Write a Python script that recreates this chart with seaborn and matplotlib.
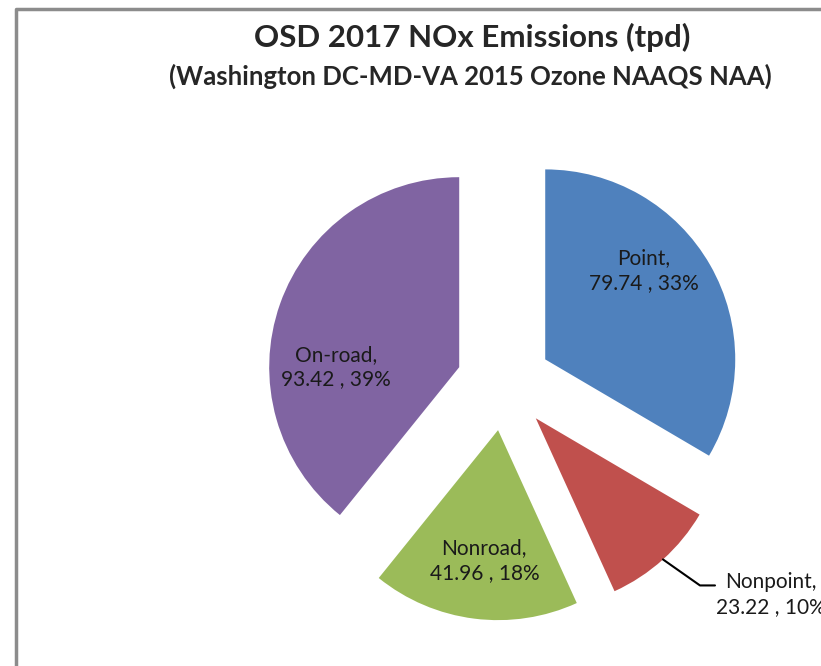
import numpy as np
import matplotlib
matplotlib.use("Agg")
import matplotlib.pyplot as plt
import seaborn as sns

# data
categories = ["Point", "Nonpoint", "Nonroad", "On-road"]
values = [79.74, 23.22, 41.96, 93.42]
percents = ["33%", "10%", "18%", "39%"]
colors = ["#4F81BD", "#C0504D", "#9BBB59", "#8064A2"]

sns.set_style("white")
plt.rcParams["font.family"] = ["Lato", "DejaVu Sans"]

W, H = 821, 666
fig = plt.figure(figsize=(W / 100, H / 100), dpi=100)
ax = fig.add_axes([0, 0, 1, 1])

# chart area border (cropped on right and bottom)
ax.plot([16, 16, W + 5], [-5, H - 9, H - 9], color="#8c8c8c", lw=2.5, solid_capstyle="butt")

radius = 190
center = (504, H - 383)
wedges, _ = ax.pie(values, colors=colors, startangle=90, counterclock=False,
                   radius=radius, center=center, explode=[0.25 * radius] * 4,
                   wedgeprops=dict(linewidth=0), frame=True)
ax.set_xlim(0, W)
ax.set_ylim(0, H)
ax.set_aspect("equal")
ax.axis("off")

# inside labels: (angle deg, distance as fraction of radius) from wedge apex
label_pos = {"Point": (42, 0.70), "Nonroad": (-96, 0.69), "On-road": (180, 0.65)}
for w, cat, v, p in zip(wedges, categories, values, percents):
    cx, cy = w.center
    txt = f"{cat},\n{v:.2f} , {p}"
    if cat in label_pos:
        ang, frac = label_pos[cat]
        a = np.deg2rad(ang)
        ax.text(cx + frac * radius * np.cos(a), cy + frac * radius * np.sin(a), txt,
                ha="center", va="center", fontsize=15, color="#1a1a1a", linespacing=1.3)
    else:
        thetam = np.deg2rad((w.theta1 + w.theta2) / 2)
        px, py = cx + radius * np.cos(thetam), cy + radius * np.sin(thetam)
        ax.plot([px, px + 37, px + 52], [py, py - 26, py - 26], color="black", lw=1.5)
        ax.text(px + 108, py - 35, txt, ha="center", va="center", fontsize=15,
                color="#1a1a1a", linespacing=1.3)

fig.text(472 / W, 1 - 37 / H, "OSD 2017 NOx Emissions (tpd)", ha="center", va="center",
         fontsize=22.5, fontweight="bold")
fig.text(470 / W, 1 - 76 / H, "(Washington DC-MD-VA 2015 Ozone NAAQS NAA)", ha="center",
         va="center", fontsize=18.5, fontweight="bold")

fig.savefig("out.png", dpi=100)
